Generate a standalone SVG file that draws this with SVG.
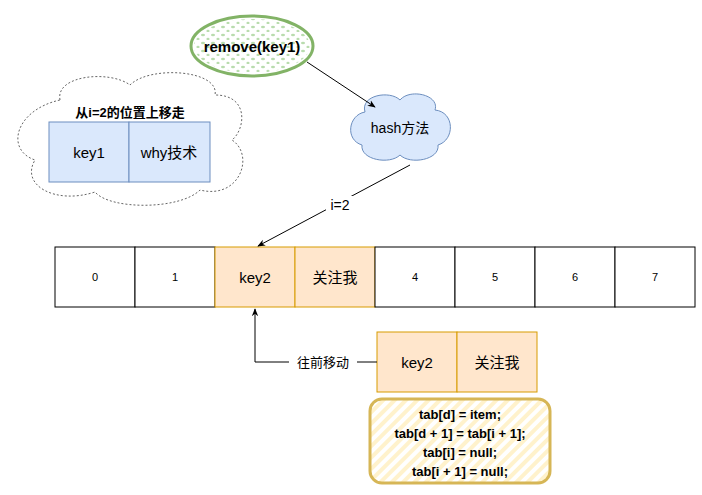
<svg xmlns="http://www.w3.org/2000/svg" width="702" height="495" viewBox="0 0 702 495">
<defs>
<style>
text{font-family:"Liberation Sans","Noto Sans CJK SC",sans-serif;text-anchor:middle;dominant-baseline:central;fill:#000}
.cell{fill:#fff;stroke:#000;stroke-width:1}
.org{fill:#ffe6cc;stroke:#d79b00;stroke-width:1}
.blue{fill:#dae8fc;stroke:#6c8ebf;stroke-width:1}
.conn{fill:none;stroke:#000;stroke-width:1}
</style>
<marker id="ar" viewBox="0 0 10 10" refX="9" refY="5" markerWidth="8" markerHeight="8" orient="auto"><path d="M0,1 L10,5 L0,9 L3,5z" fill="#000"/></marker>
<pattern id="dots" width="10" height="8" patternUnits="userSpaceOnUse"><ellipse cx="3" cy="3" rx="2" ry="1.3" fill="#b9dcae"/><ellipse cx="8" cy="7" rx="1.6" ry="1.2" fill="#b9dcae"/></pattern>
<pattern id="hatch" width="8" height="8" patternUnits="userSpaceOnUse" patternTransform="rotate(45)"><rect width="8" height="8" fill="#fff"/><rect width="4" height="8" fill="#fff2cc"/></pattern>
</defs>
<g id="remove"><ellipse cx="252" cy="46" rx="61" ry="30" fill="#fff" stroke="#82b366" stroke-width="3"/><ellipse cx="252" cy="46" rx="58" ry="27" fill="url(#dots)"/><text x="252" y="46" font-size="15" font-weight="bold">remove(key1)</text></g>
<g id="hash"><path d="M365,112 C360,95 390,90 400,100 C410,88 440,95 435,110 C455,112 455,140 438,145 C440,160 410,165 400,155 C390,165 360,160 362,145 C345,140 348,115 365,112z" fill="#dae8fc" stroke="#6c8ebf"/><text x="400" y="128" font-size="14">hash方法</text></g>
<g id="removed"><path d="M60,100 C55,75 110,70 130,85 C150,65 220,70 215,95 C250,95 245,130 232,140 C255,155 240,200 200,190 C180,210 110,210 95,192 C55,205 20,185 35,160 C5,150 15,110 60,100z" fill="#fff" stroke="#666" stroke-dasharray="2,2"/>
<text x="130" y="112" font-size="13" font-weight="bold">从i=2的位置上移走</text>
<rect class="blue" x="49" y="122" width="80" height="60"/><text x="89" y="152" font-size="15">key1</text>
<rect class="blue" x="129" y="122" width="81" height="60"/><text x="169" y="152" font-size="15">why技术</text></g>
<g id="array">
<rect class="cell" x="55" y="247" width="80" height="60"/><text x="95" y="277" font-size="11">0</text>
<rect class="cell" x="135" y="247" width="80" height="60"/><text x="175" y="277" font-size="11" fill="#996600">1</text>
<rect class="org" x="215" y="247" width="80" height="60"/><text x="255" y="277" font-size="15">key2</text>
<rect class="org" x="295" y="247" width="80" height="60"/><text x="335" y="277" font-size="15">关注我</text>
<rect class="cell" x="375" y="247" width="80" height="60"/><text x="415" y="277" font-size="11">4</text>
<rect class="cell" x="455" y="247" width="80" height="60"/><text x="495" y="277" font-size="11">5</text>
<rect class="cell" x="535" y="247" width="80" height="60"/><text x="575" y="277" font-size="11">6</text>
<rect class="cell" x="615" y="247" width="80" height="60"/><text x="655" y="277" font-size="11">7</text></g>
<g id="moved">
<rect class="org" x="377" y="332" width="80" height="60"/><text x="417" y="362" font-size="15">key2</text>
<rect class="org" x="457" y="332" width="80" height="60"/><text x="497" y="362" font-size="15">关注我</text></g>
<g id="code"><rect x="370" y="399" width="180" height="84" rx="12" fill="url(#hatch)" stroke="#d6b656" stroke-width="3"/>
<text font-size="13" font-weight="bold"><tspan x="460" y="414">tab[d] = item;</tspan><tspan x="460" y="433">tab[d + 1] = tab[i + 1];</tspan><tspan x="460" y="452">tab[i] = null;</tspan><tspan x="460" y="471">tab[i + 1] = null;</tspan></text></g>
<g id="connectors">
<path class="conn" d="M307,62 L375,107" marker-end="url(#ar)"/>
<path class="conn" d="M410,165 L258,246" marker-end="url(#ar)"/>
<rect x="326" y="196" width="28" height="18" fill="#fff"/><text x="340" y="205" font-size="14">i=2</text>
<path class="conn" d="M377,362 L255,362 L255,309" marker-end="url(#ar)"/>
<rect x="289" y="353" width="68" height="18" fill="#fff"/><text x="323" y="362" font-size="13">往前移动</text>
</g>
</svg>
